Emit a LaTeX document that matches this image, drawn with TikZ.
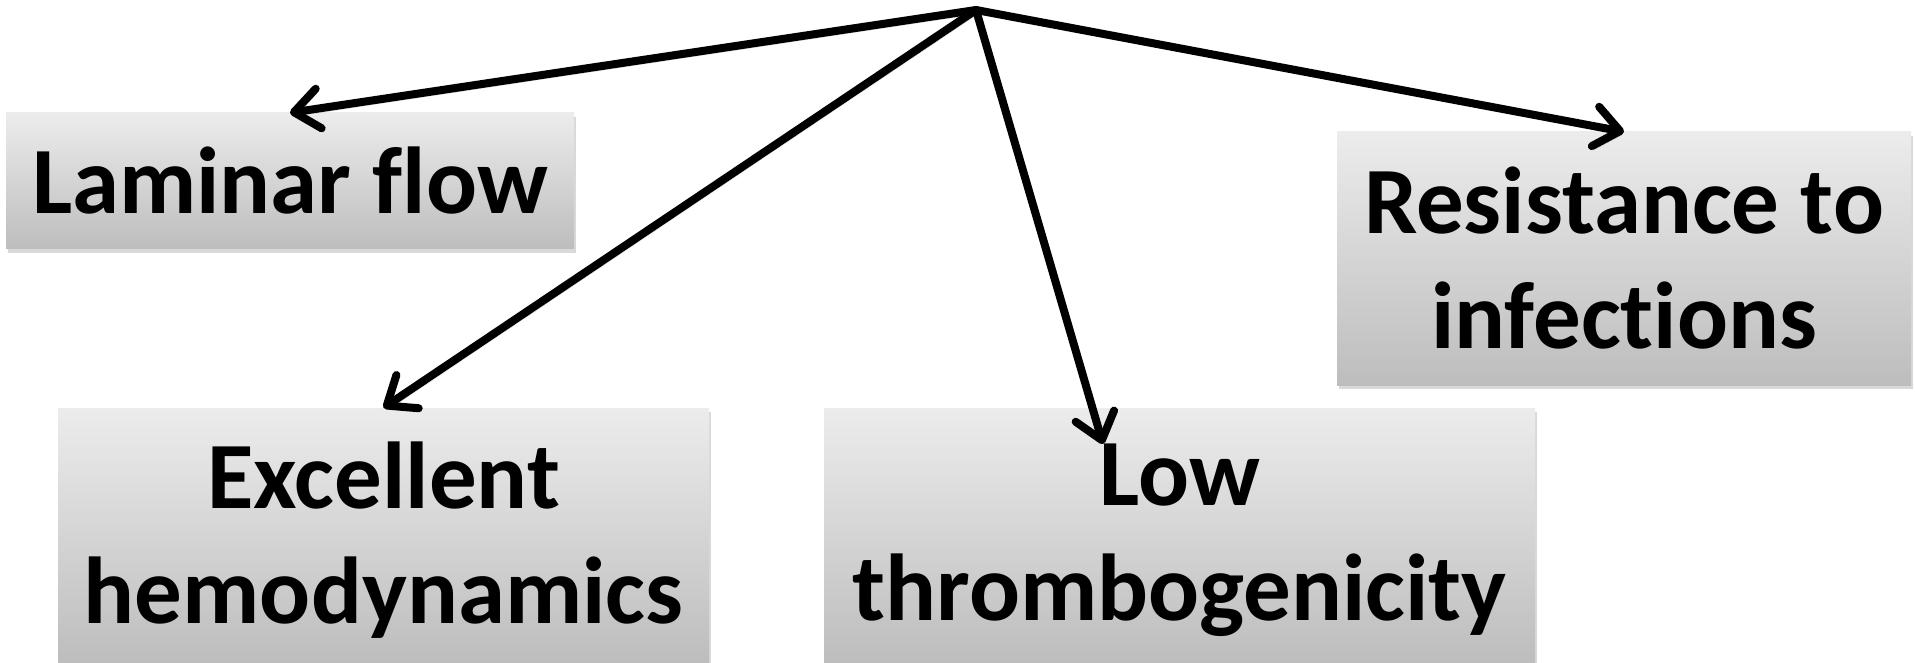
\documentclass[tikz,border=0pt]{standalone}
\usepackage{fontspec}
\setmainfont{Carlito}[Ligatures={NoCommon}]
\usetikzlibrary{arrows.meta,shadows}
\definecolor{boxtop}{HTML}{ECECEC}
\definecolor{boxbot}{HTML}{BDBDBD}
\begin{document}
\begin{tikzpicture}[x=1pt,y=-1pt,
  box/.style={rectangle, inner sep=0pt, top color=boxtop, bottom color=boxbot, draw=none,
    drop shadow={shadow xshift=2pt, shadow yshift=-4pt, opacity=0.3}},
  txt/.style={inner sep=0pt, align=center, font=\fontsize{95}{115}\selectfont\bfseries},
  arr/.style={line width=8pt, line cap=round,
    -{Straight Barb[round, length=25pt, width=40pt]},
    preaction={draw, black, opacity=0.12, transform canvas={shift={(2pt,-4pt)}}}}]
\useasboundingbox (0,0) rectangle (1915,663);
\node[box, minimum width=568pt, minimum height=136pt] (lam) at (290,181) {};
\node[box, minimum width=574pt, minimum height=253pt] (res) at (1624,258.5) {};
\node[box, minimum width=651pt, minimum height=255pt] (exc) at (383.5,535.5) {};
\node[box, minimum width=711pt, minimum height=255pt] (low) at (1179.5,535.5) {};
\node[txt] (lamt) at (lam.center) {Laminar flow};
\node[txt] (rest) at (res.center) {Resistance to\\infections};
\node[txt, yshift=-4.5pt] (exct) at (exc.center) {Excellent\\hemodynamics};
\node[txt, yshift=-4.5pt] (lowt) at (low.center) {Low\\thrombogenicity};
\coordinate (apex) at (976,10);
\coordinate (lowtip) at (1103,444);
\draw[arr] (apex) -- (lam.north);
\draw[arr] (apex) -- (exc.north);
\draw[arr] (apex) -- (lowtip);
\draw[arr] (apex) -- (res.north);
\end{tikzpicture}
\end{document}
